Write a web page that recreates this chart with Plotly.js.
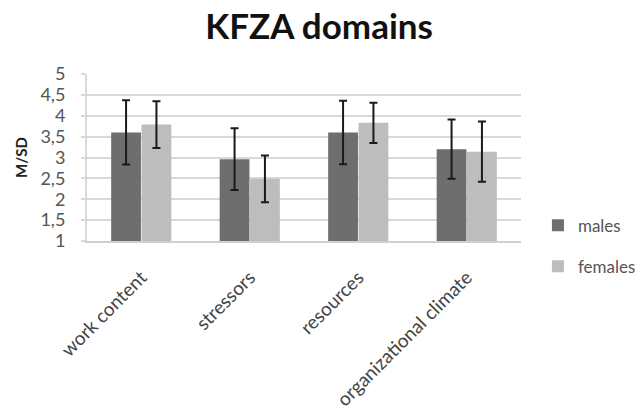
<!DOCTYPE html>
<html>
<head>
<meta charset="utf-8">
<script src="https://cdn.plot.ly/plotly-3.0.1.min.js"></script>
<style>html,body{margin:0;padding:0;background:#fff;}#chart{width:642px;height:416px;}</style>
</head>
<body>
<div id="chart"></div>
<script>
const categories = ["work content", "stressors", "resources", "organizational climate"];
const malesMean = [3.60, 2.96, 3.60, 3.20];
const malesSD = [0.77, 0.74, 0.76, 0.71];
const femalesMean = [3.79, 2.49, 3.83, 3.14];
const femalesSD = [0.56, 0.56, 0.48, 0.72];
const yTickVals = [1, 1.5, 2, 2.5, 3, 3.5, 4, 4.5, 5];
const yTickText = ["1", "1,5", "2", "2,5", "3", "3,5", "4", "4,5", "5"];

const font = "Lato, 'Open Sans', sans-serif";
const errStyle = {type: "data", visible: true, color: "#1a1a1a", thickness: 2, width: 4};

const traces = [
  {type: "bar", name: "males", x: categories, y: malesMean,
   error_y: Object.assign({array: malesSD}, errStyle),
   marker: {color: "#6e6e6e"}, legendgroup: "m"},
  {type: "bar", name: "females", x: categories, y: femalesMean,
   error_y: Object.assign({array: femalesSD}, errStyle),
   marker: {color: "#bdbdbd"}, legendgroup: "f"}
];

const layout = {
  width: 642, height: 416,
  margin: {l: 87, r: 121, t: 74, b: 175, autoexpand: false},
  paper_bgcolor: "#fff", plot_bgcolor: "#fff",
  font: {family: font, color: "#555", size: 14},
  title: {text: "<b>KFZA domains</b>", x: 0.497, xref: "container", xanchor: "center",
          y: 0.935, yref: "container", yanchor: "middle",
          font: {family: font, size: 35, color: "#111"}},
  barmode: "group", bargap: 0.44, bargroupgap: 0.02,
  xaxis: {tickangle: -45, showgrid: false, showline: true, linecolor: "#d0d0d0", linewidth: 2,
          automargin: false,
          ticks: "", ticklabelstandoff: 16, tickfont: {size: 19, color: "#444"}, fixedrange: true},
  yaxis: {range: [1, 5], tickvals: yTickVals, ticktext: yTickText, automargin: false,
          showgrid: true, gridcolor: "#d9d9d9", gridwidth: 2,
          showline: true, linecolor: "#d9d9d9", linewidth: 2,
          zeroline: false, ticks: "outside", ticklen: 4, tickwidth: 2, tickcolor: "#d9d9d9",
          ticklabelstandoff: 12, tickfont: {size: 18, color: "#555"},
          title: {text: "<b>M/SD</b>", font: {size: 15, color: "#222"}, standoff: 9}},
  legend: {x: 1.039, xanchor: "left", y: 0.2, yanchor: "top", traceorder: "grouped",
           tracegroupgap: 16, font: {size: 17, color: "#555"}, itemwidth: 30}
};

Plotly.newPlot("chart", traces, layout, {staticPlot: true, displayModeBar: false});
</script>
</body>
</html>
